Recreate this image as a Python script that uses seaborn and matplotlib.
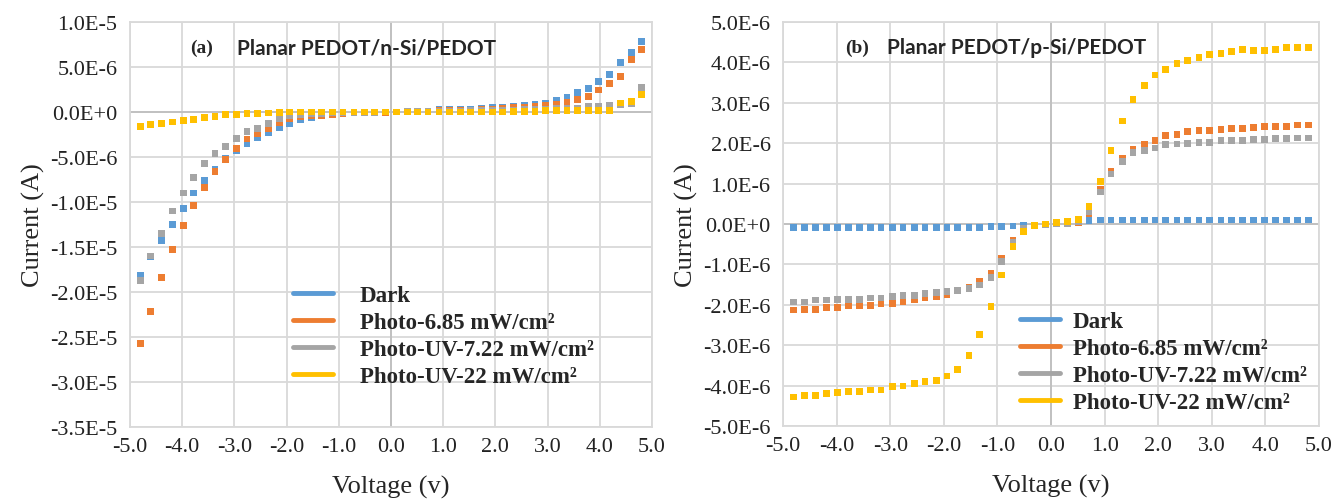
import numpy as np
import pandas as pd
import matplotlib
matplotlib.use("Agg")
import matplotlib.pyplot as plt
from matplotlib.lines import Line2D
import seaborn as sns

# ---------------- data ----------------
voltage = [-4.80, -4.60, -4.39, -4.19, -3.98, -3.78, -3.57, -3.37, -3.17, -2.96,
           -2.76, -2.55, -2.35, -2.14, -1.94, -1.74, -1.53, -1.33, -1.12, -0.92,
           -0.71, -0.51, -0.31, -0.10, 0.10, 0.31, 0.51, 0.71, 0.92, 1.12,
           1.33, 1.53, 1.74, 1.94, 2.14, 2.35, 2.55, 2.76, 2.96, 3.17,
           3.37, 3.57, 3.78, 3.98, 4.19, 4.39, 4.60, 4.80]

series_names = ["Dark", "Photo-6.85 mW/cm\u00b2", "Photo-UV-7.22 mW/cm\u00b2", "Photo-UV-22 mW/cm\u00b2"]

# panel (a) currents in units of 1e-6 A
a_dark = [-18.2, -16.1, -14.3, -12.5, -10.7, -9.0, -7.6, -6.4, -5.2, -4.3,
          -3.5, -2.8, -2.25, -1.7, -1.25, -0.8, -0.65, -0.45, -0.25, -0.2,
          -0.12, -0.08, -0.05, -0.02, 0.0, 0.02, 0.05, 0.08, 0.25, 0.28,
          0.3, 0.32, 0.35, 0.48, 0.52, 0.67, 0.7, 0.85, 1.0, 1.33,
          1.65, 2.2, 2.63, 3.37, 4.15, 5.5, 6.6, 7.85]
a_photo = [-25.7, -22.2, -18.4, -15.3, -12.6, -10.4, -8.4, -6.6, -5.3, -4.1,
           -3.0, -2.4, -1.8, -1.2, -0.75, -0.55, -0.45, -0.35, -0.25, -0.15,
           -0.1, -0.07, -0.04, -0.02, 0.0, 0.02, 0.05, 0.1, 0.15, 0.22,
           0.22, 0.22, 0.24, 0.33, 0.4, 0.48, 0.5, 0.6, 0.7, 0.85,
           1.1, 1.4, 1.7, 2.45, 3.2, 3.96, 5.85, 6.9]
a_uv722 = [-18.7, -16.0, -13.5, -11.0, -9.0, -7.3, -5.7, -4.6, -3.8, -2.9,
           -2.2, -1.8, -1.25, -0.75, -0.45, -0.3, -0.22, -0.15, -0.1, -0.07,
           -0.05, -0.03, -0.02, 0.0, 0.0, 0.02, 0.04, 0.06, 0.08, 0.1,
           0.12, 0.14, 0.16, 0.18, 0.2, 0.22, 0.26, 0.3, 0.33, 0.4,
           0.4, 0.42, 0.63, 0.63, 0.7, 0.78, 0.9, 2.74]
a_uv22 = [-1.6, -1.42, -1.27, -1.12, -0.97, -0.82, -0.64, -0.49, -0.3, -0.26,
          -0.19, -0.15, -0.12, -0.1, 0.0, 0.0, 0.0, 0.0, 0.0, 0.0,
          0.0, 0.0, 0.0, 0.0, 0.0, 0.0, 0.0, 0.0, 0.0, 0.0,
          0.0, 0.0, 0.0, 0.0, 0.0, 0.02, 0.05, 0.07, 0.15, 0.15,
          0.15, 0.15, 0.15, 0.15, 0.15, 1.0, 1.18, 1.95]

# panel (b) currents in units of 1e-6 A
b_dark = [-0.08, -0.08, -0.08, -0.08, -0.08, -0.08, -0.08, -0.08, -0.08, -0.08,
          -0.08, -0.08, -0.08, -0.08, -0.08, -0.08, -0.08, -0.08, -0.07, -0.06,
          -0.05, -0.04, -0.03, -0.01, 0.01, 0.03, 0.05, 0.08, 0.1, 0.1,
          0.1, 0.1, 0.1, 0.1, 0.1, 0.1, 0.1, 0.1, 0.1, 0.1,
          0.1, 0.1, 0.1, 0.1, 0.1, 0.1, 0.1, 0.1]
b_photo = [-2.13, -2.11, -2.11, -2.07, -2.07, -2.03, -2.01, -2.01, -1.97, -1.97,
           -1.93, -1.88, -1.83, -1.79, -1.74, -1.66, -1.58, -1.42, -1.22, -0.85,
           -0.4, -0.12, -0.04, -0.01, 0.01, 0.02, 0.04, 0.25, 0.85, 1.3,
           1.63, 1.84, 1.97, 2.07, 2.19, 2.21, 2.29, 2.31, 2.31, 2.33,
           2.36, 2.36, 2.38, 2.41, 2.41, 2.41, 2.45, 2.45]
b_uv722 = [-1.93, -1.93, -1.88, -1.88, -1.86, -1.86, -1.86, -1.83, -1.83, -1.79,
           -1.76, -1.76, -1.72, -1.69, -1.68, -1.64, -1.59, -1.51, -1.32, -0.93,
           -0.45, -0.1, -0.03, -0.01, 0.01, 0.02, 0.05, 0.31, 0.79, 1.24,
           1.55, 1.76, 1.82, 1.88, 1.97, 1.98, 2.0, 2.02, 2.02, 2.07,
           2.07, 2.07, 2.09, 2.09, 2.11, 2.11, 2.13, 2.13]
b_uv22 = [-4.28, -4.24, -4.24, -4.2, -4.17, -4.15, -4.15, -4.11, -4.11, -4.03,
          -4.01, -3.94, -3.9, -3.87, -3.76, -3.6, -3.25, -2.73, -2.04, -1.26,
          -0.56, -0.18, -0.04, 0.0, 0.03, 0.06, 0.12, 0.44, 1.06, 1.82,
          2.55, 3.08, 3.43, 3.69, 3.83, 3.98, 4.05, 4.12, 4.19, 4.23,
          4.26, 4.32, 4.3, 4.3, 4.32, 4.36, 4.36, 4.36]

x_ticks = [-5, -4, -3, -2, -1, 0, 1, 2, 3, 4, 5]
x_ticklabels = ["-5.0", "-4.0", "-3.0", "-2.0", "-1.0", "0.0", "1.0", "2.0", "3.0", "4.0", "5.0"]
a_yticks = [1e-5, 5e-6, 0, -5e-6, -1e-5, -1.5e-5, -2e-5, -2.5e-5, -3e-5, -3.5e-5]
a_yticklabels = ["1.0E-5", "5.0E-6", "0.0E+0", "-5.0E-6", "-1.0E-5", "-1.5E-5",
                 "-2.0E-5", "-2.5E-5", "-3.0E-5", "-3.5E-5"]
b_yticks = [5e-6, 4e-6, 3e-6, 2e-6, 1e-6, 0, -1e-6, -2e-6, -3e-6, -4e-6, -5e-6]
b_yticklabels = ["5.0E-6", "4.0E-6", "3.0E-6", "2.0E-6", "1.0E-6", "0.0E+0",
                 "-1.0E-6", "-2.0E-6", "-3.0E-6", "-4.0E-6", "-5.0E-6"]

colors = ["#5B9BD5", "#ED7D31", "#A5A5A5", "#FFC000"]

# ---------------- style ----------------
sns.set_style("white")
plt.rcParams["font.family"] = ["Liberation Serif", "DejaVu Serif"]

fig = plt.figure(figsize=(13.36, 5.02), dpi=100)
axA = fig.add_axes([130/1336, 1-428/502, 522/1336, 405/502])
axB = fig.add_axes([783/1336, 1-427/502, 536/1336, 404/502])


def long_df(cols):
    frames = []
    for name, vals in zip(series_names, cols):
        frames.append(pd.DataFrame({"Voltage": voltage,
                                    "Current": np.array(vals) * 1e-6,
                                    "Series": name}))
    return pd.concat(frames, ignore_index=True)


panels = [
    (axA, long_df([a_dark, a_photo, a_uv722, a_uv22]), a_yticks, a_yticklabels,
     (-3.5e-5, 1e-5), "(a)", "Planar PEDOT/n-Si/PEDOT", 0.205, (0.295, 0.374), 1.15),
    (axB, long_df([b_dark, b_photo, b_uv722, b_uv22]), b_yticks, b_yticklabels,
     (-5e-6, 5e-6), "(b)", "Planar PEDOT/p-Si/PEDOT", 0.194, (0.425, 0.308), 0.55),
]

for ax, df, yt, ytl, ylim, tag, title, tx, legpos, tpad in panels:
    ax.set_axisbelow(True)
    ax.grid(True, color="#D9D9D9", lw=1.3)
    ax.axhline(0, color="#BFBFBF", lw=1.3, zorder=1)
    ax.axvline(0, color="#BFBFBF", lw=1.3, zorder=1)
    sns.scatterplot(data=df, x="Voltage", y="Current", hue="Series",
                    hue_order=series_names, palette=colors, marker="s", s=24,
                    linewidth=0, ax=ax, legend=False, zorder=3)
    ax.set_xlim(-5, 5)
    ax.set_ylim(*ylim)
    ax.set_xticks(x_ticks)
    ax.set_xticklabels(x_ticklabels)
    ax.set_yticks(yt)
    ax.set_yticklabels(ytl)
    ax.tick_params(axis="both", length=0, labelsize=16, colors="#222222")
    ax.tick_params(axis="y", pad=9)
    ax.tick_params(axis="x", pad=7)
    for sp in ax.spines.values():
        sp.set_color("#D9D9D9")
        sp.set_linewidth(1.3)
    ax.set_xlabel("Voltage (v)", fontsize=19, labelpad=14)
    ax.set_ylabel("Current (A)", fontsize=19, labelpad=4)
    ax.text(0.115, 0.938, tag, transform=ax.transAxes, fontsize=14,
            fontweight="bold", ha="left", va="center")
    ax.text(tx, 0.938, title, transform=ax.transAxes,
            fontsize=15, fontweight="bold", family="Lato", ha="left", va="center")
    handles = [Line2D([0], [0], color=c, lw=3.5) for c in colors]
    ax.legend(handles, series_names, loc="upper left", bbox_to_anchor=legpos,
              frameon=False, prop={"family": "Liberation Serif", "weight": "bold", "size": 16.5},
              handlelength=1.75, handletextpad=tpad, labelspacing=0.26, borderaxespad=0)

fig.savefig("out.png", dpi=100)
